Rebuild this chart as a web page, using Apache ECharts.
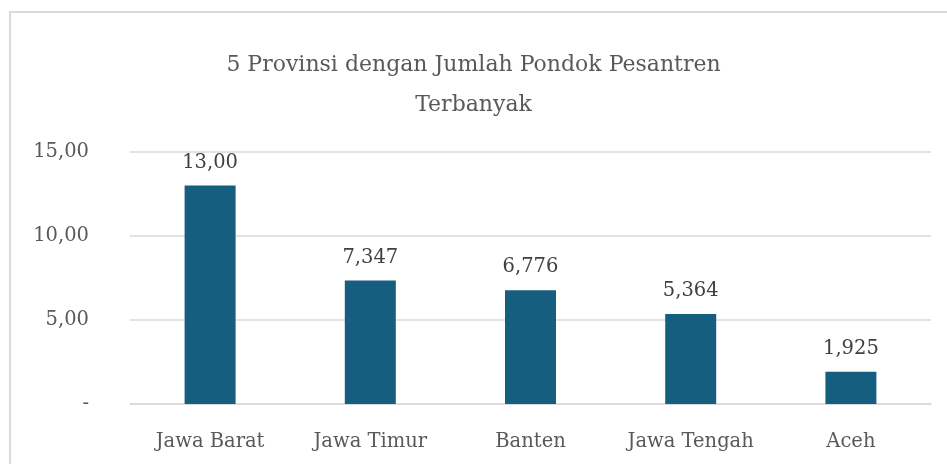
<!DOCTYPE html>
<html>
<head>
<meta charset="utf-8">
<script src="https://cdn.jsdelivr.net/npm/echarts@6/dist/echarts.min.js"></script>
<style>
  html, body { margin: 0; padding: 0; background: #fff; overflow: hidden; width: 947px; height: 464px; }
  #frame {
    position: absolute; left: 9px; top: 11px; width: 1000px; height: 500px;
    border-left: 2px solid #d9d9d9; border-top: 2px solid #d9d9d9;
  }
  #chart { position: absolute; left: 0; top: 0; width: 947px; height: 464px; }
</style>
</head>
<body>
<div id="frame"></div>
<div id="chart"></div>
<script>
// data
const provinces = ['Jawa Barat', 'Jawa Timur', 'Banten', 'Jawa Tengah', 'Aceh']
const pesantren = [13.0, 7.347, 6.776, 5.364, 1.925]
const valueLabels = ['13,00', '7,347', '6,776', '5,364', '1,925']
const yTicks = [0, 5, 10, 15]

const font = 'DejaVu Serif'
const chart = echarts.init(document.getElementById('chart'))

const option = {
    animation: false,
    backgroundColor: 'transparent',
    title: {
        text: '5 Provinsi dengan Jumlah Pondok Pesantren\nTerbanyak',
        left: 'center',
        top: 40,
        textStyle: {
            fontFamily: font,
            fontSize: 22,
            fontWeight: 'normal',
            color: '#595959',
            lineHeight: 40
        }
    },
    grid: {
        left: 130,
        right: 16,
        top: 152,
        bottom: 60
    },
    xAxis: {
        type: 'category',
        data: provinces,
        axisLine: { lineStyle: { color: '#d9d9d9', width: 1.5 } },
        axisTick: { show: false },
        axisLabel: {
            interval: 0,
            margin: 28,
            fontFamily: font,
            fontSize: 19.5,
            color: '#595959'
        }
    },
    yAxis: {
        type: 'value',
        min: yTicks[0],
        max: yTicks[yTicks.length - 1],
        interval: 5,
        axisLine: { show: false },
        axisTick: { show: false },
        splitLine: { lineStyle: { color: '#d9d9d9', width: 1.5 } },
        axisLabel: {
            margin: 41,
            fontFamily: font,
            fontSize: 19.5,
            color: '#595959',
            formatter: function(v) {
                if (v === 0) return '-'
                return v.toFixed(2).replace('.', ',')
            }
        }
    },
    series: [
        {
            type: 'bar',
            data: pesantren,
            barWidth: 51,
            itemStyle: { color: '#165e80' },
            label: {
                show: true,
                position: 'top',
                distance: 13,
                fontFamily: font,
                fontSize: 19.5,
                color: '#404040',
                formatter: function(p) {
                    return valueLabels[p.dataIndex]
                }
            }
        }
    ]
}

chart.setOption(option)
</script>
</body>
</html>
